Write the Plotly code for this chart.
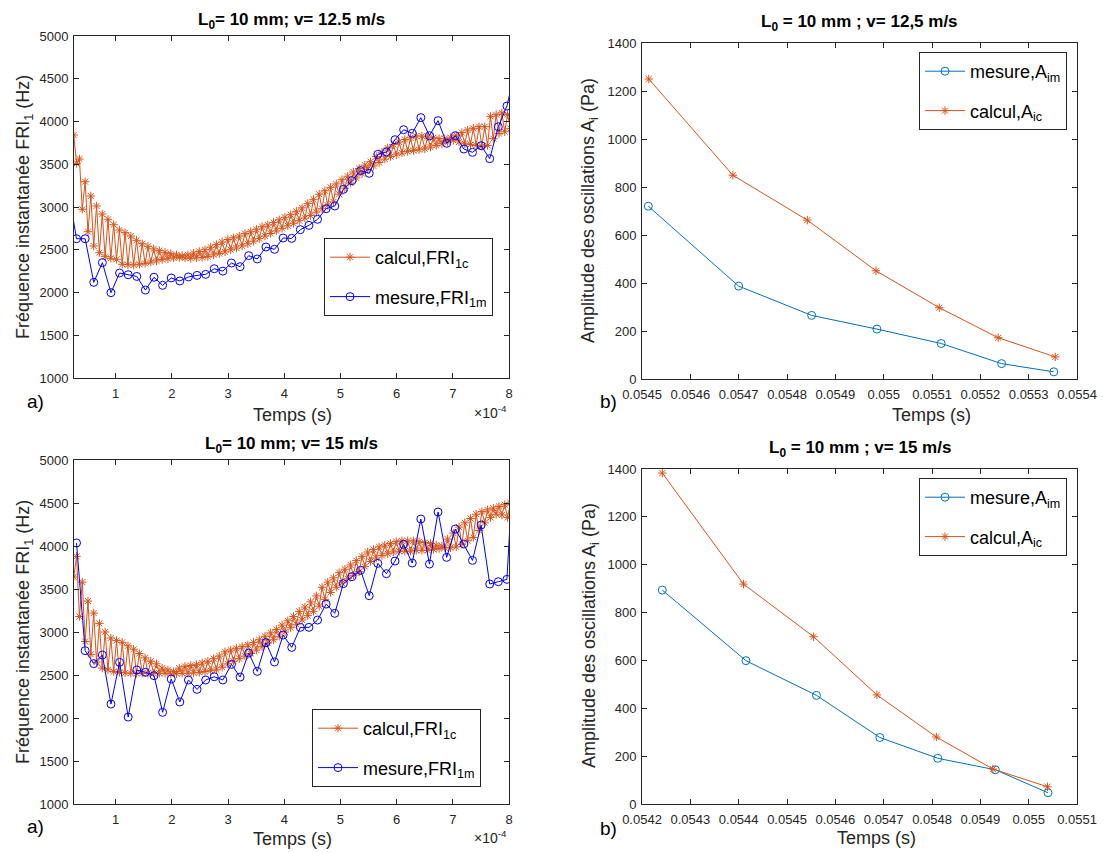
import numpy as np
import plotly.graph_objects as go

# ---------------- data ----------------
# Left plots: instantaneous frequency vs time (time in units of 1e-4 s)
T0_CALC, DT_CALC = 0.253, 0.0508
T0_MEAS_A, T0_MEAS_B, DT_MEAS = 0.150, 0.303, 0.1532

calc_125 = [
    3842, 3511, 3561, 2973, 3296, 2711, 3129, 2544, 3012, 2466,
    2918, 2419, 2856, 2400, 2793, 2388, 2731, 2330, 2700, 2325,
    2660, 2322, 2610, 2330, 2570, 2340, 2540, 2355, 2510, 2370,
    2490, 2385, 2470, 2395, 2455, 2405, 2440, 2410, 2430, 2405,
    2440, 2400, 2460, 2405, 2480, 2410, 2500, 2420, 2530, 2440,
    2560, 2455, 2590, 2475, 2620, 2500, 2640, 2520, 2660, 2545,
    2690, 2570, 2710, 2600, 2740, 2630, 2770, 2660, 2790, 2690,
    2820, 2720, 2850, 2750, 2880, 2780, 2910, 2810, 2950, 2840,
    2990, 2870, 3040, 2900, 3090, 2940, 3150, 2980, 3190, 3020,
    3230, 3060, 3270, 3150, 3320, 3220, 3360, 3280, 3410, 3340,
    3450, 3390, 3490, 3440, 3530, 3480, 3590, 3520, 3640, 3560,
    3690, 3590, 3730, 3610, 3760, 3630, 3790, 3650, 3810, 3660,
    3830, 3670, 3830, 3680, 3820, 3700, 3810, 3720, 3800, 3740,
    3800, 3760, 3810, 3780, 3840, 3760, 3870, 3740, 3900, 3730,
    3920, 3720, 3940, 3710, 3940, 3720, 4060, 3800, 4080, 3860,
    4100, 3880, 4080, 3920]

meas_125 = [
    3215,
    2629, 2629, 2119, 2349, 1998, 2228, 2208, 2188, 2029, 2178,
    2084, 2170, 2135, 2182, 2200, 2212, 2278, 2250, 2345, 2302,
    2431, 2392, 2532, 2505, 2637, 2633, 2735, 2785, 2856, 2980,
    3012, 3207, 3308, 3425, 3394, 3616, 3644, 3787, 3904, 3862,
    4045, 3834, 4010, 3745, 3834, 3678, 3639, 3717, 3565, 3939,
    4181,
    4615]

calc_15 = [
    3640, 3880, 3180, 3580, 2890, 3360, 2740, 3220, 2650, 3100,
    2580, 3000, 2560, 2930, 2540, 2900, 2530, 2880, 2525, 2840,
    2520, 2800, 2520, 2750, 2520, 2700, 2520, 2660, 2520, 2630,
    2520, 2580, 2520, 2560, 2510, 2540, 2515, 2580, 2520, 2600,
    2520, 2610, 2525, 2620, 2530, 2640, 2540, 2660, 2550, 2690,
    2560, 2720, 2590, 2770, 2630, 2790, 2660, 2810, 2690, 2830,
    2720, 2850, 2750, 2880, 2790, 2910, 2830, 2950, 2870, 2990,
    2910, 3030, 2950, 3080, 3000, 3130, 3050, 3180, 3090, 3240,
    3140, 3290, 3190, 3350, 3240, 3420, 3300, 3520, 3380, 3580,
    3460, 3630, 3520, 3690, 3570, 3730, 3620, 3780, 3660, 3830,
    3700, 3880, 3760, 3930, 3820, 3960, 3860, 3990, 3890, 4010,
    3910, 4030, 3930, 4050, 3940, 4060, 3940, 4060, 3940, 4060,
    3950, 4050, 3950, 4040, 3950, 4030, 3960, 4010, 3970, 4000,
    3980, 4080, 3980, 4150, 3990, 4220, 4020, 4270, 4060, 4320,
    4100, 4370, 4180, 4400, 4270, 4420, 4330, 4440, 4370, 4460,
    4360, 4480, 4330, 4500]

meas_15 = [
    4035, 2783, 2632, 2732, 2162, 2647, 2011, 2558, 2531, 2492,
    2066, 2453, 2186, 2442, 2333, 2442, 2480, 2442, 2624, 2476,
    2755, 2542, 2876, 2651, 2965, 2821, 3054, 3054, 3139, 3325,
    3217, 3562, 3643, 3717, 3422, 3798, 3678, 3825, 4019, 3802,
    4314, 3790, 4395, 3868, 4197, 4023, 3833, 4244, 3558, 3585,
    3612,
    5400]

# Right plots: amplitude of oscillations vs time (s)
amp_t_meas_125 = [0.054513, 0.054700, 0.054851, 0.054986, 0.055119, 0.055244, 0.055352]
amp_meas_125 = [720, 387, 265, 208, 148, 64, 30]
amp_t_calc_125 = [0.054514, 0.054688, 0.054842, 0.054984, 0.055115, 0.055237, 0.055355]
amp_calc_125 = [1250, 849, 662, 451, 297, 172, 92]

amp_t_meas_15 = [0.054242, 0.054415, 0.054561, 0.054692, 0.054812, 0.054931, 0.055040]
amp_meas_15 = [894, 599, 454, 278, 191, 143, 47]
amp_t_calc_15 = [0.054242, 0.054410, 0.054555, 0.054686, 0.054809, 0.054926, 0.055039]
amp_calc_15 = [1383, 919, 699, 456, 280, 146, 72]

left_xticks = [1, 2, 3, 4, 5, 6, 7, 8]
left_yticks = [1000, 1500, 2000, 2500, 3000, 3500, 4000, 4500, 5000]
right_yticks = [0, 200, 400, 600, 800, 1000, 1200, 1400]
tr_xticks = [0.0545, 0.0546, 0.0547, 0.0548, 0.0549, 0.0550, 0.0551, 0.0552, 0.0553, 0.0554]
tr_xlabels = ["0.0545", "0.0546", "0.0547", "0.0548", "0.0549", "0.055", "0.0551", "0.0552", "0.0553", "0.0554"]
br_xticks = [0.0542, 0.0543, 0.0544, 0.0545, 0.0546, 0.0547, 0.0548, 0.0549, 0.0550, 0.0551]
br_xlabels = ["0.0542", "0.0543", "0.0544", "0.0545", "0.0546", "0.0547", "0.0548", "0.0549", "0.055", "0.0551"]

# ---------------- layout helpers ----------------
OFF = 0            # body margin removed by post_script below
W, H = 1103, 853
FONT = "Liberation Sans, Arial, sans-serif"
AX = "#262626"
ORANGE = "#D95319"
BLUE = "#0000FF"
MBLUE = "#0072BD"
EPS = 1e-8


def px(x):
    return (x - OFF) / W


def py(y):
    return 1 - (y - OFF) / H


t_calc_125 = T0_CALC + DT_CALC * np.arange(len(calc_125))
t_meas_125 = T0_MEAS_A + DT_MEAS * np.arange(len(meas_125))
t_calc_15 = T0_CALC + DT_CALC * np.arange(len(calc_15))
t_meas_15 = T0_MEAS_B + DT_MEAS * np.arange(len(meas_15))

fig = go.Figure()


def calc_trace(x, y, name, xa, ya, leg, col=ORANGE, size=7):
    return go.Scatter(x=x, y=y, name=name, mode="lines+markers",
                      line=dict(color=col, width=1),
                      marker=dict(symbol="asterisk-open", size=size, color=col,
                                  line=dict(color=col, width=1)),
                      xaxis=xa, yaxis=ya, legend=leg, legendgroup=name + leg)


def meas_trace(x, y, name, xa, ya, leg, col):
    return go.Scatter(x=x, y=y, name=name, mode="lines+markers",
                      line=dict(color=col, width=1),
                      marker=dict(symbol="circle-open", size=8, color=col,
                                  line=dict(color=col, width=1)),
                      xaxis=xa, yaxis=ya, legend=leg, legendgroup=name + leg)


# top-left
fig.add_trace(calc_trace(t_calc_125, calc_125, "calcul,FRI<sub>1c</sub>", "x", "y", "legend"))
fig.add_trace(meas_trace(t_meas_125, meas_125, "mesure,FRI<sub>1m</sub>", "x", "y", "legend", BLUE))
# top-right
fig.add_trace(meas_trace(amp_t_meas_125, amp_meas_125, "mesure,A<sub>im</sub>", "x2", "y2", "legend2", MBLUE))
fig.add_trace(calc_trace(amp_t_calc_125, amp_calc_125, "calcul,A<sub>ic</sub>", "x2", "y2", "legend2"))
# bottom-left
fig.add_trace(calc_trace(t_calc_15, calc_15, "calcul,FRI<sub>1c</sub>", "x3", "y3", "legend3"))
fig.add_trace(meas_trace(t_meas_15, meas_15, "mesure,FRI<sub>1m</sub>", "x3", "y3", "legend3", BLUE))
# bottom-right
fig.add_trace(meas_trace(amp_t_meas_15, amp_meas_15, "mesure,A<sub>im</sub>", "x4", "y4", "legend4", MBLUE))
fig.add_trace(calc_trace(amp_t_calc_15, amp_calc_15, "calcul,A<sub>ic</sub>", "x4", "y4", "legend4"))

# axes boxes in page pixels (left, top, right, bottom)
boxes = {
    1: (74, 36, 509, 378),
    2: (642, 43, 1077, 379),
    3: (74, 460, 509, 804),
    4: (642, 469, 1077, 804),
}

common = dict(showline=True, linecolor=AX, linewidth=1, mirror="ticks",
              ticks="inside", ticklen=5, tickcolor=AX, tickwidth=1,
              showgrid=False, zeroline=False, automargin=False,
              ticklabeloverflow="allow",
              tickfont=dict(family=FONT, size=13, color=AX))

layout = dict(width=W, height=H, margin=dict(l=0, r=0, t=0, b=0, autoexpand=False),
              paper_bgcolor="white", plot_bgcolor="white",
              font=dict(family=FONT, color="black"))

for i, (l, t, r, b) in boxes.items():
    xs = "xaxis" if i == 1 else f"xaxis{i}"
    ys = "yaxis" if i == 1 else f"yaxis{i}"
    yname = "y" if i == 1 else f"y{i}"
    xname = "x" if i == 1 else f"x{i}"
    xa = dict(common, domain=[px(l), px(r)], anchor=yname, ticklabelstandoff=3)
    ya = dict(common, domain=[py(b), py(t)], anchor=xname, ticklabelstandoff=2)
    if i in (1, 3):
        xa.update(range=[0.258, 8 + 1e-6], tickvals=left_xticks)
        ya.update(range=[1000 - 1e-6, 5000 + 1e-6], tickvals=left_yticks)
    elif i == 2:
        xa.update(range=[0.0545 - EPS, 0.0554 + EPS], tickvals=tr_xticks, ticktext=tr_xlabels)
        ya.update(range=[0 - 1e-6, 1400 + 1e-6], tickvals=right_yticks)
    else:
        xa.update(range=[0.0542 - EPS, 0.0551 + EPS], tickvals=br_xticks, ticktext=br_xlabels)
        ya.update(range=[0 - 1e-6, 1400 + 1e-6], tickvals=right_yticks)
    layout[xs] = xa
    layout[ys] = ya

leg_common = dict(bgcolor="white", bordercolor=AX, borderwidth=1,
                  font=dict(family=FONT, size=18, color="black"),
                  xanchor="left", yanchor="top", tracegroupgap=13,
                  itemwidth=40)
legend_pos = {"legend": (324, 238), "legend2": (919, 52),
              "legend3": (312, 709), "legend4": (919, 478)}
for k, (lx, ly) in legend_pos.items():
    layout[k] = dict(leg_common, x=px(lx), y=py(ly))

fig.update_layout(**layout)

ann = []


def text(x, y, s, size, bold=False, angle=0, xanchor="center", color="black"):
    ann.append(dict(x=px(x), y=py(y), xref="paper", yref="paper", text=("<b>%s</b>" % s) if bold else s,
                    showarrow=False, textangle=angle, xanchor=xanchor, yanchor="middle",
                    font=dict(family=FONT, size=size, color=color)))


text(291.5, 21, "L<sub>0</sub>= 10 mm; v= 12.5 m/s", 17, bold=True)
text(859.5, 23, "L<sub>0</sub> = 10 mm ; v= 12,5 m/s", 17, bold=True)
text(291.5, 445, "L<sub>0</sub>= 10 mm; v= 15 m/s", 17, bold=True)
text(859.5, 449, "L<sub>0</sub> = 10 mm ; v= 15 m/s", 17, bold=True)

text(292, 415, "Temps (s)", 18, color=AX)
text(292, 839, "Temps (s)", 18, color=AX)
text(931, 415, "Temps (s)", 18, color=AX)
text(876, 838, "Temps (s)", 18, color=AX)

text(24, 207, "Fréquence instantanée FRI<sub>1</sub> (Hz)", 18, angle=-90, color=AX)
text(24, 632, "Fréquence instantanée FRI<sub>1</sub> (Hz)", 18, angle=-90, color=AX)
text(590, 211, "Amplitude des oscillations A<sub>i</sub> (Pa)", 18, angle=-90, color=AX)
text(590, 636, "Amplitude des oscillations A<sub>i</sub> (Pa)", 18, angle=-90, color=AX)

text(509, 412, "×10<sup>-4</sup>", 14, xanchor="right", color=AX)
text(509, 837, "×10<sup>-4</sup>", 14, xanchor="right", color=AX)

text(35, 401, "a)", 19)
text(35, 826, "a)", 19)
text(608, 401, "b)", 19)
text(608, 828, "b)", 19)

fig.update_layout(annotations=ann)
fig.write_html("out.html", config={"displayModeBar": False},
               post_script="document.body.style.margin='0';document.body.style.overflow='hidden';")
